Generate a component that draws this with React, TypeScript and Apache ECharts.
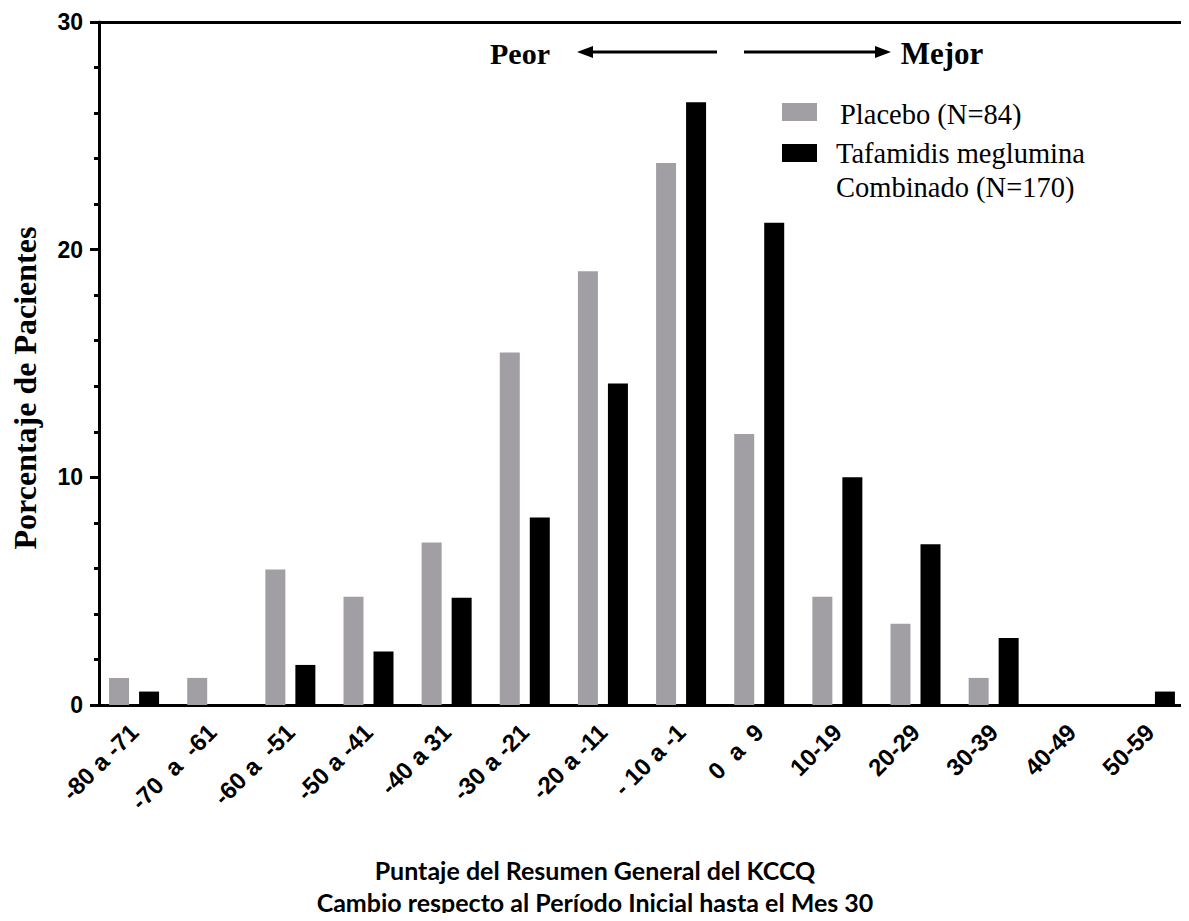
import React, { useEffect, useRef } from "react";
import * as echarts from "echarts";

const categories = [
  "-80 a -71", "-70  a  -61", "-60 a  -51", "-50 a -41", "-40 a 31", "-30 a -21", "-20 a -11",
  "- 10 a -1", "0  a  9", "10-19", "20-29", "30-39", "40-49", "50-59",
];
const placebo = [1.19, 1.19, 5.95, 4.76, 7.14, 15.48, 19.05, 23.81, 11.9, 4.76, 3.57, 1.19, 0, 0];
const tafamidis = [0.59, 0, 1.76, 2.35, 4.71, 8.24, 14.12, 26.47, 21.18, 10.0, 7.06, 2.94, 0, 0.59];
const yTicks = [0, 10, 20, 30];
const seriesNames = ["Placebo (N=84)", "Tafamidis meglumina\nCombinado (N=170)"];
const yTitle = "Porcentaje de Pacientes";
const xTitle = ["Puntaje del Resumen General del KCCQ", "Cambio respecto al Período Inicial hasta el Mes 30"];

const GREY = "#a29fa4";
const SERIF = "'Liberation Serif', 'Times New Roman', serif";
const SANS = "'Liberation Sans', Arial, sans-serif";

export default function App() {
  const ref = useRef<HTMLDivElement>(null);
  useEffect(() => {
    if (!ref.current) return;
    const chart = echarts.init(ref.current, null, { renderer: "svg" });
    const option: any = {
      animation: false,
      backgroundColor: "#fff",
      grid: { left: 95, right: -11, top: 22, bottom: 216, containLabel: false },
      xAxis: [
        {
          type: "category",
          data: categories,
          position: "bottom",
          axisLine: { lineStyle: { color: "#000", width: 3 } },
          axisTick: { alignWithLabel: true, length: 9, lineStyle: { color: "#000", width: 3 } },
          axisLabel: {
            rotate: 45,
            interval: 0,
            margin: 23,
            color: "#000",
            fontFamily: SANS,
            fontWeight: "bold",
            fontSize: 24,
          },
        },
        {
          type: "category",
          data: categories,
          position: "top",
          axisLine: { show: true, lineStyle: { color: "#000", width: 3 } },
          axisTick: { show: false },
          axisLabel: { show: false },
        },
      ],
      yAxis: {
        type: "value",
        min: 0,
        max: 30,
        interval: 10,
        offset: -4,
        axisLine: { show: true, lineStyle: { color: "#000", width: 3 } },
        axisTick: { show: true, length: 9, lineStyle: { color: "#000", width: 3 } },
        minorTick: { show: true, splitNumber: 5, length: 5, lineStyle: { color: "#000", width: 3 } },
        splitLine: { show: false },
        axisLabel: {
          margin: 16,
          color: "#000",
          fontFamily: SANS,
          fontWeight: "bold",
          fontSize: 23,
          formatter: (v: number) => (yTicks.includes(v) ? String(v) : ""),
        },
      },
      series: [
        {
          name: seriesNames[0],
          type: "bar",
          data: placebo,
          barWidth: 20,
          barGap: "50%",
          itemStyle: { color: GREY },
        },
        {
          name: seriesNames[1],
          type: "bar",
          data: tafamidis,
          barWidth: 20,
          barGap: "50%",
          itemStyle: { color: "#000" },
        },
      ],
      graphic: [
        // y title
        { type: "text", x: 25, y: 388, rotation: Math.PI / 2, style: { text: yTitle, fontFamily: SERIF, fontWeight: "bold", fontSize: 32, fill: "#000", textAlign: "center", textVerticalAlign: "middle" } },
        // direction annotation
        { type: "text", x: 520, y: 53, style: { text: "Peor", fontFamily: SERIF, fontWeight: "bold", fontSize: 30, fill: "#000", textAlign: "center", textVerticalAlign: "middle" } },
        { type: "line", shape: { x1: 590, y1: 52, x2: 717, y2: 52 }, style: { stroke: "#000", lineWidth: 3 } },
        { type: "polygon", shape: { points: [[577, 52], [593, 46], [593, 58]] }, style: { fill: "#000" } },
        { type: "line", shape: { x1: 744, y1: 52, x2: 878, y2: 52 }, style: { stroke: "#000", lineWidth: 3 } },
        { type: "polygon", shape: { points: [[891, 52], [875, 46], [875, 58]] }, style: { fill: "#000" } },
        { type: "text", x: 942, y: 53, style: { text: "Mejor", fontFamily: SERIF, fontWeight: "bold", fontSize: 31, fill: "#000", textAlign: "center", textVerticalAlign: "middle" } },
        // legend
        { type: "rect", shape: { x: 782, y: 103, width: 35, height: 18 }, style: { fill: GREY } },
        { type: "text", x: 840, y: 114, style: { text: seriesNames[0], fontFamily: SERIF, fontSize: 28.5, fill: "#000", textVerticalAlign: "middle" } },
        { type: "rect", shape: { x: 782, y: 144, width: 35, height: 18 }, style: { fill: "#000" } },
        { type: "text", x: 836, y: 136, style: { text: seriesNames[1], fontFamily: SERIF, fontSize: 28.5, lineHeight: 34, fill: "#000", textVerticalAlign: "top" } },
        // x title
        { type: "text", x: 595, y: 870, style: { text: xTitle[0], fontFamily: "Lato, sans-serif", fontWeight: "bold", fontSize: 25, fill: "#000", textAlign: "center", textVerticalAlign: "middle" } },
        { type: "text", x: 595, y: 902, style: { text: xTitle[1], fontFamily: "Lato, sans-serif", fontWeight: "bold", fontSize: 25, fill: "#000", textAlign: "center", textVerticalAlign: "middle" } },
      ],
    };
    chart.setOption(option);
    return () => chart.dispose();
  }, []);
  return <div ref={ref} style={{ width: 1189, height: 921, margin: -8 }} />;
}
